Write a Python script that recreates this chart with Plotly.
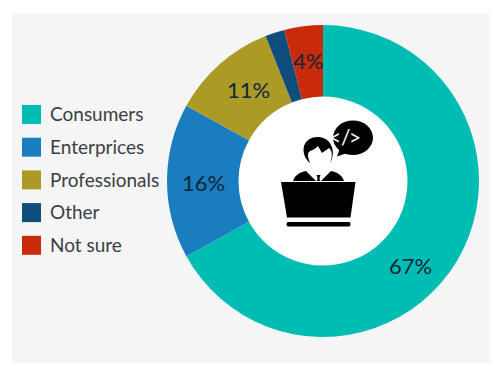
import plotly.graph_objects as go

categories = ["Consumers", "Enterprices", "Professionals", "Other", "Not sure"]
shares = [67, 16, 11, 2, 4]
colors = ["#00bdb4", "#1a7dc0", "#ac9a27", "#0f4e7c", "#c92a0c"]
value_labels = ["67%", "16%", "11%", "", "4%"]
bubble_glyphs = ["<", "/", ">"]

W, H = 501, 368
def px(x): return x / W
def py(y): return 1 - y / H
def path(points):
    return "M" + " L".join(f"{px(x):.5f},{py(y):.5f}" for x, y in points) + " Z"
def curve(d):
    return " ".join(t if isinstance(t, str) else f"{px(t[0]):.5f},{py(t[1]):.5f}" for t in d)

CX, CY, R, HOLE_R = 323, 181, 156, 84.5
shapes = [
    dict(type="rect", xref="paper", yref="paper", layer="below", x0=px(12), x1=px(490), y0=py(363), y1=py(14),
         fillcolor="#f5f5f5", line_width=0),
    dict(type="circle", xref="paper", yref="paper", layer="below", x0=px(CX - HOLE_R - 1), x1=px(CX + HOLE_R + 1),
         y0=py(CY + HOLE_R + 1), y1=py(CY - HOLE_R - 1), fillcolor="#ffffff", line_width=0),
]
annotations = []

# legend
LEG_TOP, LEG_STEP, SW = 105, 32.7, 19
for i, (c, col) in enumerate(zip(categories, colors)):
    y0 = LEG_TOP + i * LEG_STEP
    shapes.append(dict(type="rect", xref="paper", yref="paper", x0=px(22), x1=px(41), y0=py(y0 + SW), y1=py(y0),
                       fillcolor=col, line_width=0))
    annotations.append(dict(text=c, xref="paper", yref="paper", x=px(47.5), y=py(y0 + SW / 2 - 0.7), xanchor="left",
                            yanchor="middle", showarrow=False, font=dict(family="Lato", size=19, color="#3a3f44")))

# value labels on the ring
label_anchor = [(410, 265), (203, 182), (248, 89), None, (308, 60)]
for t, a in zip(value_labels, label_anchor):
    if a:
        annotations.append(dict(text=t, xref="paper", yref="paper", x=px(a[0]), y=py(a[1]), xanchor="center",
                                yanchor="middle", showarrow=False, font=dict(family="Lato", size=22, color="#10263a")))

BK = "#000000"
def blob(d, fill=BK):
    shapes.append(dict(type="path", xref="paper", yref="paper", path=d, fillcolor=fill, line_width=0))

# speech bubble
shapes.append(dict(type="circle", xref="paper", yref="paper", x0=px(333), x1=px(373), y0=py(155), y1=py(120.5),
                   fillcolor=BK, line_width=0))
blob(path([(340, 148), (337, 156.5), (350, 152)]))
for g, gx in zip(bubble_glyphs, [343, 352.5, 363]):
    annotations.append(dict(text=g, xref="paper", yref="paper", x=px(gx), y=py(136.5), showarrow=False,
                            font=dict(family="Lato", size=21, color="#ffffff")))

# head: hair with a face cut out
blob(curve(["M", (310, 163), "C", (300, 155), (301, 137), (318, 137), "C", (331, 137), (337, 152), (330, 163),
            "C", (333, 155), (332, 151), (329, 148), "L", (322, 153), "L", (318, 146), "C", (312, 152), (308, 150), (308, 155),
            "C", (308, 158), (309, 160), (310, 163), "Z"]))
# shoulders
blob(curve(["M", (293, 181), "C", (295, 175), (300, 172), (306, 171), "L", (316, 181), "Z"]))
blob(curve(["M", (344, 181), "C", (342, 175), (337, 172), (331, 171), "L", (321, 181), "Z"]))
blob(path([(316.5, 175), (320.5, 175), (319.5, 178), (320, 181), (317, 181), (317.5, 178)]))
# laptop
blob(path([(281, 182), (355.5, 182), (350.5, 217.5), (287, 217.5)]))
blob(curve(["M", (288, 222), "L", (349, 222), "C", (351, 222), (351, 226.5), (349, 226.5), "L", (288, 226.5),
            "C", (286, 226.5), (286, 222), (288, 222), "Z"]))

fig = go.Figure(go.Pie(
    labels=categories, values=shares, sort=False, direction="clockwise", rotation=0, hole=HOLE_R / R,
    marker=dict(colors=colors, line=dict(width=0)), textinfo="none", showlegend=False,
    domain=dict(x=[px(CX - R), px(CX + R)], y=[py(CY + R), py(CY - R)]),
))
fig.update_layout(width=W, height=H, margin=dict(l=0, r=0, t=0, b=0), paper_bgcolor="#ffffff",
                  showlegend=False, shapes=shapes, annotations=annotations)
fig.write_html("out.html", post_script="document.body.style.margin='0';document.documentElement.style.overflow='hidden';",
               config=dict(displayModeBar=False))
